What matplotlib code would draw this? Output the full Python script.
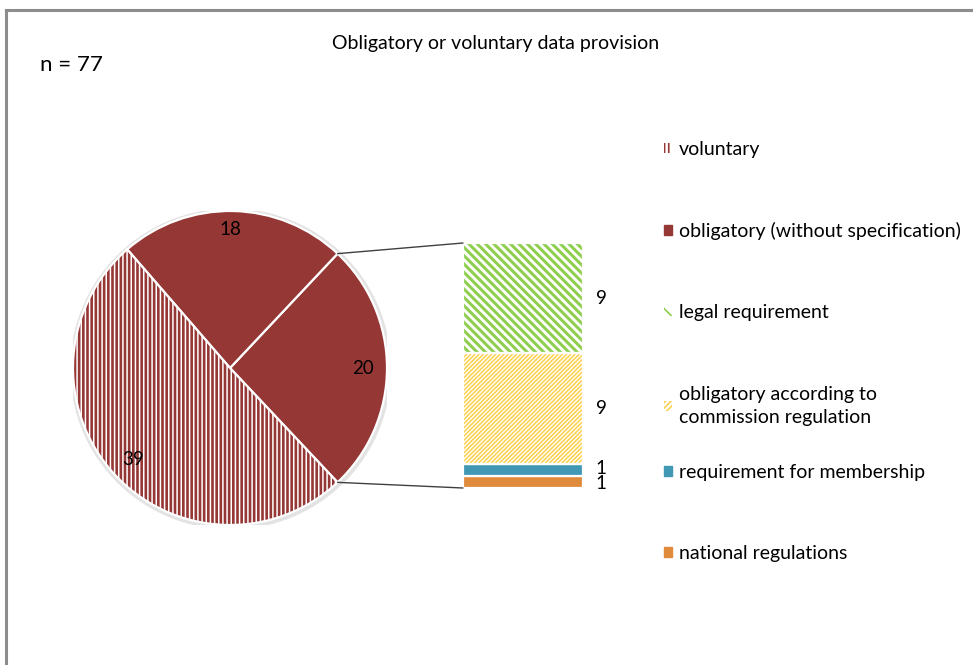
import numpy as np
import matplotlib.pyplot as plt
from matplotlib.patches import Patch, Circle
from matplotlib.lines import Line2D
from matplotlib.patches import ConnectionPatch

plt.rcParams['font.family'] = ['Lato', 'DejaVu Sans']

# pie: the "other" slice (20) is split into the bar on the right
pie_labels = ["other obligatory", "obligatory (without specification)", "voluntary"]
pie_values = [20, 18, 39]

bar_labels = ["national regulations", "requirement for membership",
              "obligatory according to\ncommission regulation", "legal requirement"]
bar_values = [1, 1, 9, 9]

title = "Obligatory or voluntary data provision"
n_total = sum(pie_values)

RED = "#953735"
GREEN = "#8fcf4f"
YELLOW = "#fcd14f"
TEAL = "#4198b5"
ORANGE = "#e08a3c"

fig = plt.figure(figsize=(9.73, 6.65), dpi=100)

# frame of the chart area (open to the right and bottom like the screenshot)
fig.add_artist(Line2D([6 / 973, 6 / 973], [0, 1 - 10 / 665], color="#8c8c8c", lw=2.2))
fig.add_artist(Line2D([6 / 973, 1], [1 - 10 / 665, 1 - 10 / 665], color="#8c8c8c", lw=2.2))

fig.text(496 / 973, 1 - 44 / 665, title, ha="center", va="center", fontsize=14)
fig.text(40 / 973, 1 - 65 / 665, "n = %d" % n_total, ha="left", va="center", fontsize=16)

# ---- pie
ax_pie = fig.add_axes([73 / 973, 1 - 525 / 665, 314 / 973, 314 / 665])
ax_pie.add_patch(Circle((0.004, -0.006), 1.018, color="#e3e3e3", zorder=0))
startangle = -pie_values[0] / n_total * 180
plt.rcParams['hatch.linewidth'] = 1.1
wedges, _ = ax_pie.pie(pie_values, startangle=startangle, colors=[RED, RED, RED],
                       wedgeprops=dict(edgecolor="white", linewidth=1.6))
wedges[2].set_hatch("||||")
for w in wedges:
    w.set_clip_on(False)
ax_pie.set_xlim(-1, 1)
ax_pie.set_ylim(-1, 1)
ax_pie.set_aspect("equal")
ax_pie.axis("off")

# value labels inside the pie
label_pos = [(0.85, 0.0), (0.0, 0.88), (-0.62, -0.58)]
for (x, y), v in zip(label_pos, pie_values):
    ax_pie.text(x, y, str(v), ha="center", va="center", fontsize=13.5)

# ---- stacked bar
ax_bar = fig.add_axes([463 / 973, 1 - 488 / 665, 120 / 973, 245 / 665])
bar_edges = [ORANGE, TEAL, YELLOW, GREEN]
bar_fill = [ORANGE, TEAL, "white", "white"]
bar_hatch = [None, None, "////////", "\\\\\\\\"]
bar_hlw = [1, 1, 1.15, 2.2]
bottom = 0
for v, fc, ec, h, hlw in zip(bar_values, bar_fill, bar_edges, bar_hatch, bar_hlw):
    plt.rcParams['hatch.linewidth'] = hlw
    ax_bar.bar(0, v, width=1, bottom=bottom, color=fc, edgecolor=ec, hatch=h, linewidth=0)
    ax_bar.bar(0, v, width=1, bottom=bottom, color="none", edgecolor="white", linewidth=1.6)
    bottom += v
ax_bar.set_xlim(-0.5, 0.5)
ax_bar.set_ylim(0, sum(bar_values))
ax_bar.axis("off")

# value labels for the bar (the two "1" labels overlap in the original too)
cum = np.cumsum([0] + bar_values)
for i, v in enumerate(bar_values):
    mid = (cum[i] + cum[i + 1]) / 2
    if v == 1:
        mid += -0.1 if i == 0 else 0.1
    ax_bar.text(1.15, mid, str(v), ha="center", va="center", fontsize=13.5,
                transform=ax_bar.get_yaxis_transform())

# connector lines from the split slice to the bar
th1 = np.deg2rad(wedges[0].theta1)
th2 = np.deg2rad(wedges[0].theta2)
con_top = ConnectionPatch(xyA=(np.cos(th2), np.sin(th2)), coordsA=ax_pie.transData,
                          xyB=(-0.5, sum(bar_values)), coordsB=ax_bar.transData,
                          color="#404040", lw=1.0)
con_bot = ConnectionPatch(xyA=(np.cos(th1), np.sin(th1)), coordsA=ax_pie.transData,
                          xyB=(-0.5, 0), coordsB=ax_bar.transData,
                          color="#404040", lw=1.0)
fig.add_artist(con_top)
fig.add_artist(con_bot)

# ---- legend (two blocks so the spacing follows the original)
plt.rcParams['hatch.linewidth'] = 1.2
handles = [
    Patch(facecolor="white", edgecolor=RED, hatch="||||", linewidth=0, label="voluntary"),
    Patch(facecolor=RED, edgecolor=RED, label="obligatory (without specification)"),
    Patch(facecolor="white", edgecolor=GREEN, hatch="\\\\\\", linewidth=0, label="legal requirement"),
    Patch(facecolor="white", edgecolor=YELLOW, hatch="//////", linewidth=0, label=bar_labels[2]),
    Patch(facecolor=TEAL, edgecolor=TEAL, label=bar_labels[1]),
    Patch(facecolor=ORANGE, edgecolor=ORANGE, label=bar_labels[0]),
]
leg_kw = dict(loc="upper left", frameon=False, fontsize=14, handlelength=0.42,
              handleheight=0.42, handletextpad=0.35, borderpad=0, borderaxespad=0)
leg1 = fig.legend(handles=handles[:4], bbox_to_anchor=(664 / 973, 1 - 141 / 665),
                  labelspacing=3.3, **leg_kw)
for t in leg1.get_texts():
    t.set_linespacing(1.45)
leg2 = fig.legend(handles=handles[4:], bbox_to_anchor=(664 / 973, 1 - 464 / 665),
                  labelspacing=3.3, **leg_kw)

fig.savefig("out.png", dpi=100, facecolor="white")
